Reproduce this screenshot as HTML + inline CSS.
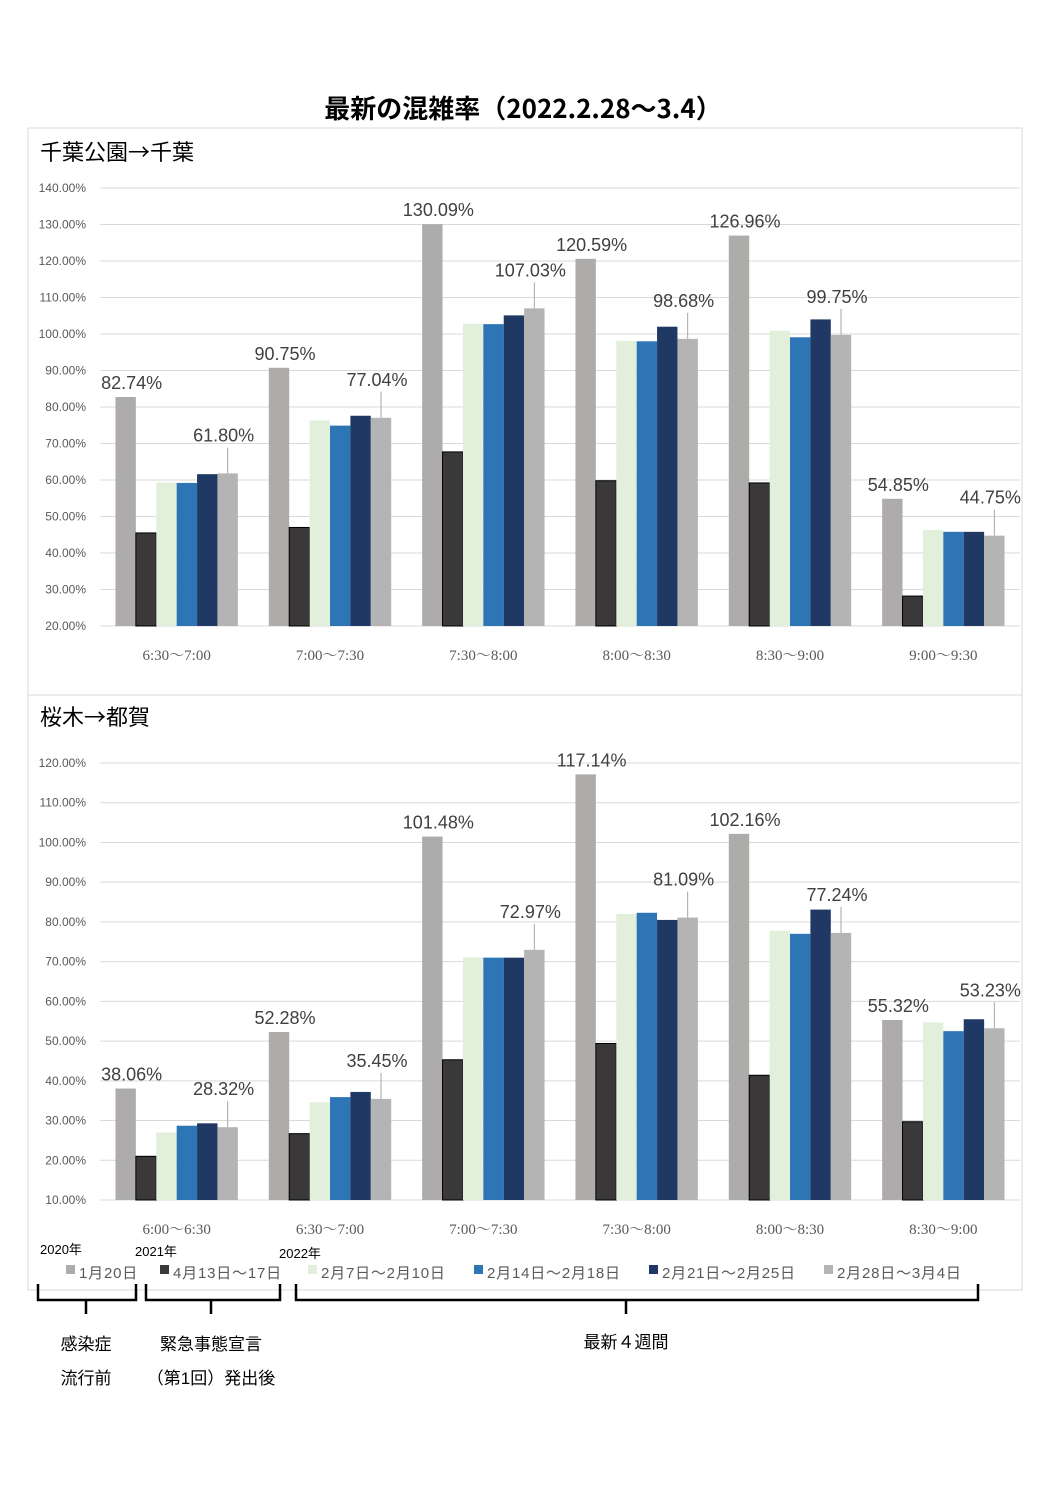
<!DOCTYPE html>
<html><head><meta charset="utf-8"><style>
body{margin:0;background:#fff;}
svg text{font-family:"Liberation Sans","Noto Sans CJK JP",sans-serif;}
</style></head><body>
<svg id="s" width="1058" height="1496" xmlns="http://www.w3.org/2000/svg">
<text x="523" y="118" font-size="26" font-weight="bold" text-anchor="middle" fill="#000" style="font-family:'Noto Sans CJK JP',sans-serif">最新の混雑率（2022.2.28～3.4）</text>
<rect x="28" y="128" width="994" height="1162" fill="none" stroke="#d9d9d9"/>
<line x1="28" y1="695" x2="1022" y2="695" stroke="#d9d9d9"/>
<text x="40" y="160" font-size="22" fill="#000" style="font-family:'Noto Sans CJK JP',sans-serif">千葉公園→千葉</text>
<text x="40" y="725" font-size="22" fill="#000" style="font-family:'Noto Sans CJK JP',sans-serif">桜木→都賀</text>
<g id="c1"></g><g id="c2"></g><g id="leg"></g>
<text x="40" y="1254" font-size="13">2020年</text>
<text x="135" y="1256" font-size="13">2021年</text>
<text x="279" y="1258" font-size="13">2022年</text>
<g fill="none" stroke="#000" stroke-width="2.5">
<path d="M38,1284 v16 h98 v-16 M86,1300 v14"/>
<path d="M146,1284 v16 h134 v-16 M211,1300 v14"/>
<path d="M296,1284 v16 h682 v-16 M626,1300 v14"/>
</g>
<text x="86" y="1350" font-size="17" text-anchor="middle">感染症</text>
<text x="86" y="1384" font-size="17" text-anchor="middle">流行前</text>
<text x="211" y="1350" font-size="17" text-anchor="middle">緊急事態宣言</text>
<text x="211" y="1384" font-size="17" text-anchor="middle">（第1回）発出後</text>
<text x="626" y="1348" font-size="17" text-anchor="middle">最新４週間</text>
</svg>
<script>
const colors=["#aeabab","#3a3838","#e2efda","#2e75b6","#1f3864","#b4b4b4"];
const legendLabels=["1月20日","4月13日～17日","2月7日～2月10日","2月14日～2月18日","2月21日～2月25日","2月28日～3月4日"];
const cats1=["6:30～7:00","7:00～7:30","7:30～8:00","8:00～8:30","8:30～9:00","9:00～9:30"];
const ticks1=[20,30,40,50,60,70,80,90,100,110,120,130,140];
const s1a=[82.74,90.75,130.09,120.59,126.96,54.85];
const s1b=[45.5,47.0,67.7,59.8,59.2,28.2];
const s1c=[59.3,76.3,102.8,98.1,100.9,46.3];
const s1d=[59.2,74.9,102.7,98.0,99.1,45.8];
const s1e=[61.6,77.6,105.1,102.0,104.0,45.8];
const s1f=[61.80,77.04,107.03,98.68,99.75,44.75];
const cats2=["6:00～6:30","6:30～7:00","7:00～7:30","7:30～8:00","8:00～8:30","8:30～9:00"];
const ticks2=[10,20,30,40,50,60,70,80,90,100,110,120];
const s2a=[38.06,52.28,101.48,117.14,102.16,55.32];
const s2b=[21.0,26.7,45.3,49.4,41.4,29.7];
const s2c=[27.0,34.6,71.1,82.0,77.8,54.7];
const s2d=[28.7,35.9,71.0,82.3,77.0,52.5];
const s2e=[29.3,37.2,71.0,80.5,83.1,55.5];
const s2f=[28.32,35.45,72.97,81.09,77.24,53.23];
const NS="http://www.w3.org/2000/svg";
function mk(p,t,a){const e=document.createElementNS(NS,t);for(const k in a)e.setAttribute(k,a[k]);p.appendChild(e);return e;}
function chart(g,cats,ticks,series,y0,y1,catY,id){
 const lo=ticks[0],hi=ticks[ticks.length-1];
 const y=v=>y0-(v-lo)/(hi-lo)*(y0-y1);
 const x0=100,x1=1020,gw=(x1-x0)/cats.length,bw=20.4;
 ticks.forEach(t=>{
  const l=mk(g,"line",{x1:x0,x2:x1,y1:y(t),y2:y(t),stroke:"#d9d9d9"});
  
  
  const tx=mk(g,"text",{x:86,y:y(t)+4,"font-size":12,"text-anchor":"end",fill:"#595959"});
  tx.textContent=t.toFixed(2)+"%";
  
  
 });
 cats.forEach((c,i)=>{
  const cx=x0+gw*(i+0.5);
  const tx=mk(g,"text",{x:cx,y:catY,"font-size":15,"text-anchor":"middle",fill:"#595959",style:"font-family:'Liberation Serif','Noto Serif CJK SC',serif"});
  tx.textContent=c;
  
  
  series.forEach((s,j)=>{
   const bx=cx-3*bw+j*bw;
   const r=mk(g,"rect",{x:bx,y:y(s[i]),width:bw,height:y0-y(s[i]),fill:colors[j],stroke:j==1?"#000":"none","stroke-width":1});
   
   
  });
  const a=series[0][i],f=series[5][i];
  const la=mk(g,"text",{x:cx-3*bw+bw/2+6,y:y(a)-8,"font-size":18,"text-anchor":"middle",fill:"#404040"});
  la.textContent=a.toFixed(2)+"%";
  
  
  const fx=cx+2.5*bw,ty=y(f)-32;
  mk(g,"line",{x1:fx,y1:ty+6,x2:fx,y2:y(f),stroke:"#a6a6a6"});
  const lf=mk(g,"text",{x:fx-4,y:ty,"font-size":18,"text-anchor":"middle",fill:"#404040"});
  lf.textContent=f.toFixed(2)+"%";
  
  
 });
}
chart(document.getElementById("c1"),cats1,ticks1,[s1a,s1b,s1c,s1d,s1e,s1f],626,188,660,"chart1");
chart(document.getElementById("c2"),cats2,ticks2,[s2a,s2b,s2c,s2d,s2e,s2f],1200,763,1234,"chart2");
const lg=document.getElementById("leg");
const lx=[66,160,308,474,649,824];
legendLabels.forEach((t,i)=>{
 const r=mk(lg,"rect",{x:lx[i],y:1265,width:9,height:9,fill:colors[i]});
 
 
 const tx=mk(lg,"text",{x:lx[i]+13,y:1278,"font-size":15,fill:"#595959","letter-spacing":"0.8"});
 tx.textContent=t;
 
 
});
</script>
</body></html>
